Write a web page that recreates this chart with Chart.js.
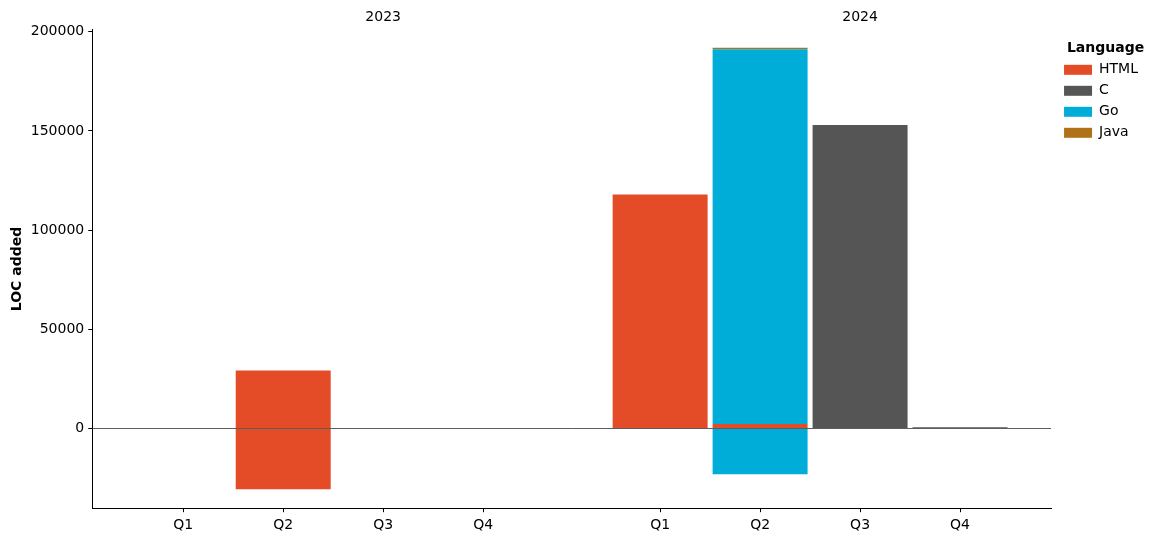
<!DOCTYPE html>
<html><head><meta charset="utf-8">
<script src="https://cdn.jsdelivr.net/npm/chart.js@4.4.1/dist/chart.umd.min.js"></script>
<style>html,body{margin:0;padding:0;background:#fff}#wrap{width:1157px;height:542px}</style>
</head><body><div id="wrap"><canvas id="c" width="1157" height="542"></canvas></div>
<script>
const quarters = ['Q1','Q2','Q3','Q4','Q1','Q2','Q3','Q4'];
const years = ['2023','2024'];
const xPos = [0, 1, 2, 3, 4.77, 5.77, 6.77, 7.77];
const yearPos = [2, 6.77];
const languages = ['HTML','C','Go','Java'];
const colors = ['#e34c26','#555555','#00add8','#b07219'];
// LOC added (positive) per quarter
const htmlAdd = [null, 29200, null, null, 118000, 2200, null, null];
const cAdd    = [null, null, null, null, null, null, 153000, 600];
const goAdd   = [null, null, null, null, null, 189000, null, null];
const javaAdd = [null, null, null, null, null, 700, null, null];
// LOC removed (negative) per quarter
const htmlDel = [null, -30600, null, null, null, null, null, null];
const goDel   = [null, null, null, null, null, -23100, null, null];

const yTicks = [0, 50000, 100000, 150000, 200000];
const font = {family: 'DejaVu Sans', size: 14};

function pts(arr){ return arr.map((v,i)=>({x:xPos[i], y:v})).filter(p=>p.y!==null); }
function ds(label, arr, color, hidden){
  return {label, data: pts(arr), backgroundColor: color, borderWidth: 0,
          barPercentage: 0.95, categoryPercentage: 1, stack: 's', inLegend: !hidden};
}
const adds = [htmlAdd, cAdd, goAdd, javaAdd];
const datasets = languages.map((l,i)=>ds(l, adds[i], colors[i], false));
datasets.push(ds('HTML del', htmlDel, colors[0], true));
datasets.push(ds('Go del', goDel, colors[2], true));

const zeroLine = {
  id: 'zeroLine',
  afterInit(chart){
    const lg = chart.legend;
    if (lg && !lg._wide) {
      const origFit = lg.fit.bind(lg);
      lg.fit = function(){ origFit(); this.width += 6; };
      const origDraw = lg.draw.bind(lg);
      lg.draw = function(){ const c = this.ctx; c.save(); c.translate(6, 3); origDraw(); c.restore(); };
      lg._wide = true;
    }
  },
  afterDatasetsDraw(chart){
    const {ctx, chartArea, scales} = chart;
    const y = Math.round(scales.y.getPixelForValue(0)) + 0.5;
    ctx.save();
    ctx.strokeStyle = '#333'; ctx.lineWidth = 0.8;
    ctx.beginPath(); ctx.moveTo(chartArea.left, y); ctx.lineTo(chartArea.right, y); ctx.stroke();
    ctx.restore();
  }
};

new Chart(document.getElementById('c'), {
  type: 'bar',
  data: {datasets},
  options: {
    responsive: false, animation: false, devicePixelRatio: 1,
    layout: {padding: {left: 4, right: 9, top: 5, bottom: 3}},
    plugins: {
      tooltip: {enabled: false},
      legend: {
        position: 'right', align: 'start',
        title: {display: true, text: 'Language', color: '#000', font: {...font, weight: 'bold'}, padding: {top: 33, bottom: -2}},
        labels: {
          color: '#000', font, boxWidth: 28, boxHeight: 10, padding: 7,
          filter: (item, data) => data.datasets[item.datasetIndex].inLegend
        }
      }
    },
    scales: {
      x: {
        type: 'linear', position: 'bottom', stacked: true, min: -0.91, max: 8.68, offset: false,
        afterBuildTicks: s => { s.ticks = xPos.map(v=>({value:v})); },
        ticks: {color: '#000', font, autoSkip: false, maxRotation: 0, padding: 5,
                callback: (v, i) => quarters[i]},
        grid: {display: true, offset: false, drawOnChartArea: false, drawTicks: true, tickLength: 4, color: '#000'},
        border: {display: true, color: '#000', width: 1}
      },
      xTop: {
        type: 'linear', position: 'top', min: -0.91, max: 8.68, offset: false,
        afterBuildTicks: s => { s.ticks = yearPos.map(v=>({value:v})); },
        ticks: {color: '#000', font, autoSkip: false, maxRotation: 0, padding: 4,
                callback: (v, i) => years[i]},
        grid: {display: false, offset: false, drawTicks: false},
        border: {display: false}
      },
      y: {
        stacked: true, min: -40200, max: 201000,
        afterBuildTicks: s => { s.ticks = yTicks.map(v=>({value:v})); },
        ticks: {color: '#000', font, padding: 4, callback: v => String(v)},
        grid: {display: true, drawOnChartArea: false, drawTicks: true, tickLength: 4, color: '#000'},
        border: {display: true, color: '#000', width: 1},
        title: {display: true, text: 'LOC added', color: '#000', font: {...font, weight: 'bold'}, padding: {top: 5, bottom: 1}}
      }
    }
  },
  plugins: [zeroLine]
});
</script></body></html>
